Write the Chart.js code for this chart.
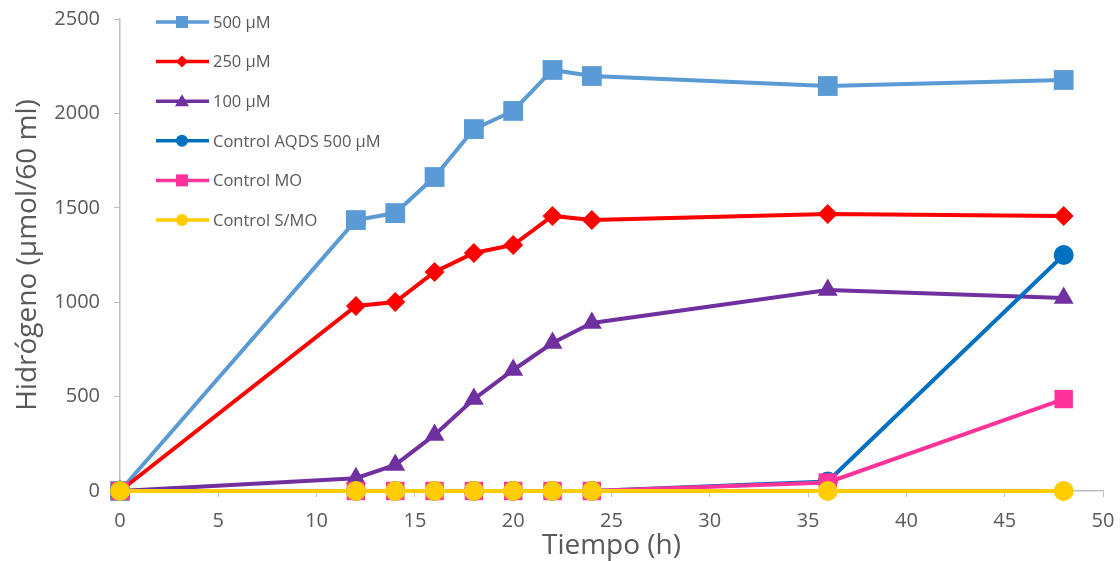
<!DOCTYPE html>
<html>
<head>
<meta charset="utf-8">
<script src="https://cdn.jsdelivr.net/npm/chart.js@4.4.1/dist/chart.umd.min.js"></script>
<style>
  body { margin: 0; background: #fff; }
</style>
</head>
<body>
<canvas id="chart" width="1120" height="561"></canvas>
<script>
// hours sampled
const hours = [0, 12, 14, 16, 18, 20, 22, 24, 36, 48];

// hydrogen (µmol / 60 ml)
const h500 = [0, 1435, 1472, 1663, 1917, 2013, 2230, 2198, 2145, 2177];
const h250 = [0, 980, 1001, 1160, 1261, 1303, 1457, 1435, 1467, 1457];
const h100 = [0, 68, 138, 297, 487, 641, 784, 890, 1065, 1022];
const ctrlAqds = [0, 0, 0, 0, 0, 0, 0, 0, 50, 1250];
const ctrlMo = [0, 0, 0, 0, 0, 0, 0, 0, 45, 487];
const ctrlSmo = [0, 0, 0, 0, 0, 0, 0, 0, 0, 0];

const labels = ['500 µM', '250 µM', '100 µM', 'Control AQDS 500 µM', 'Control MO', 'Control S/MO'];
const xTicks = [0, 5, 10, 15, 20, 25, 30, 35, 40, 45, 50];
const yTicks = [0, 500, 1000, 1500, 2000, 2500];

const fontFam = "'Open Sans', 'Liberation Sans', sans-serif";
const textGray = '#595959';
const axisGray = '#bfbfbf';

function pts(ys) {
    return hours.map((h, i) => ({ x: h, y: ys[i] }));
}

const series = [
    { data: h500, color: '#5b9bd5', style: 'rect', radius: 14, width: 4, order: 6 },
    { data: h250, color: '#ff0000', style: 'rectRot', radius: 10, width: 4, order: 5 },
    { data: h100, color: '#7030a0', style: 'triangle', radius: 11.5, width: 4, order: 4 },
    { data: ctrlAqds, color: '#0070c0', style: 'circle', radius: 10, width: 4, order: 3 },
    { data: ctrlMo, color: '#ff3399', style: 'rect', radius: 13, width: 4, order: 2 },
    { data: ctrlSmo, color: '#ffcc00', style: 'circle', radius: 10, width: 4, order: 1 }
];

const datasets = series.map((s, i) => ({
    label: labels[i],
    data: pts(s.data),
    borderColor: s.color,
    backgroundColor: s.color,
    borderWidth: s.width,
    pointStyle: s.style,
    pointRadius: s.radius,
    pointBorderWidth: 0,
    pointBackgroundColor: s.color,
    order: s.order,
    clip: false,
    tension: 0
}));

// line + marker legend, drawn like the spreadsheet one
const sideLegend = {
    id: 'sideLegend',
    afterDraw(chart) {
        const ctx = chart.ctx;
        ctx.save();
        series.forEach((s, i) => {
            const y = 22 + i * 39.6;
            ctx.strokeStyle = s.color;
            ctx.lineWidth = 3.5;
            ctx.beginPath();
            ctx.moveTo(156, y);
            ctx.lineTo(209, y);
            ctx.stroke();
            ctx.fillStyle = s.color;
            ctx.beginPath();
            if (s.style === 'circle') {
                ctx.arc(182, y, 6, 0, Math.PI * 2);
            } else if (s.style === 'rect') {
                ctx.rect(176, y - 6, 12, 12);
            } else if (s.style === 'rectRot') {
                ctx.moveTo(182, y - 6); ctx.lineTo(188, y); ctx.lineTo(182, y + 6); ctx.lineTo(176, y);
            } else {
                ctx.moveTo(182, y - 7); ctx.lineTo(189, y + 5); ctx.lineTo(175, y + 5);
            }
            ctx.closePath();
            ctx.fill();
            ctx.fillStyle = textGray;
            ctx.font = "16.5px " + fontFam;
            ctx.textBaseline = 'middle';
            ctx.fillText(labels[i], 213, y + 1);
        });
        ctx.restore();
    }
};

new Chart(document.getElementById('chart'), {
    type: 'line',
    data: { datasets: datasets },
    options: {
        responsive: false,
        animation: false,
        layout: { autoPadding: false, padding: { top: 19, right: 17, left: 0, bottom: 0 } },
        plugins: {
            legend: { display: false },
            tooltip: { enabled: false }
        },
        scales: {
            x: {
                type: 'linear',
                min: 0,
                max: 50,
                afterBuildTicks: axis => { axis.ticks = xTicks.map(v => ({ value: v })); },
                afterFit: axis => {
                    axis.height = 70;
                    axis.paddingLeft = 0;
                    axis.paddingRight = 0;
                },
                grid: { drawOnChartArea: false, color: axisGray, tickLength: 6 },
                border: { color: axisGray, width: 1.5 },
                ticks: {
                    color: textGray, font: { family: fontFam, size: 20 }, padding: 12,
                    callback: v => String(v)
                },
                title: {
                    display: true, text: 'Tiempo (h)', color: textGray,
                    font: { family: fontFam, size: 28 }, padding: { top: 0, bottom: -2 }
                }
            },
            y: {
                min: 0,
                max: 2500,
                afterBuildTicks: axis => { axis.ticks = yTicks.map(v => ({ value: v })); },
                afterFit: axis => {
                    axis.width = 120;
                    axis.paddingTop = 0;
                    axis.paddingBottom = 0;
                },
                grid: { drawOnChartArea: false, color: axisGray, tickLength: 6 },
                border: { color: axisGray, width: 1.5 },
                ticks: {
                    color: textGray, font: { family: fontFam, size: 20 }, padding: 14,
                    callback: v => String(v)
                },
                title: {
                    display: true, text: 'Hidrógeno (µmol/60 ml)', color: textGray,
                    font: { family: fontFam, size: 28 }, padding: { top: 11, bottom: 0 }
                }
            }
        }
    },
    plugins: [sideLegend]
});
</script>
</body>
</html>
